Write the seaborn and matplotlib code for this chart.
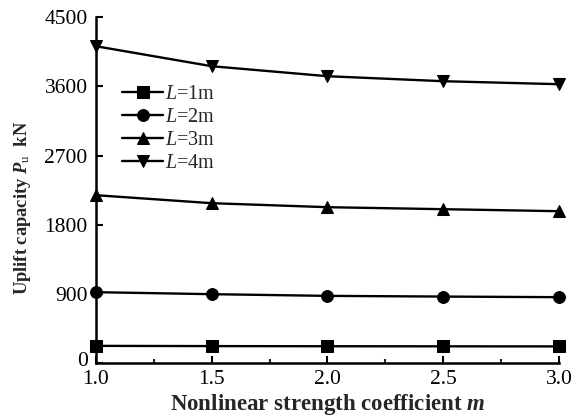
import matplotlib
matplotlib.use("Agg")
import matplotlib.pyplot as plt
import matplotlib.transforms as mtransforms
import seaborn as sns
import pandas as pd
from matplotlib.ticker import MultipleLocator

m_values = [1.0, 1.5, 2.0, 2.5, 3.0]
L1 = [225, 222, 220, 219, 218]
L2 = [923, 897, 875, 866, 858]
L3 = [2184, 2080, 2028, 2002, 1976]
L4 = [4121, 3861, 3731, 3666, 3627]
labels = ["$L$=1m", "$L$=2m", "$L$=3m", "$L$=4m"]
yticks = [0, 900, 1800, 2700, 3600, 4500]
xticks = [1.0, 1.5, 2.0, 2.5, 3.0]

rows = []
for lab, vals in zip(labels, [L1, L2, L3, L4]):
    for m, v in zip(m_values, vals):
        rows.append({"m": m, "Pu": v, "series": lab})
df = pd.DataFrame(rows)

sns.set_theme(style="ticks")
plt.rcParams["font.family"] = ["Liberation Serif", "DejaVu Serif"]
plt.rcParams["mathtext.fontset"] = "custom"
plt.rcParams["mathtext.rm"] = "Liberation Serif"
plt.rcParams["mathtext.it"] = "Liberation Serif:italic"
plt.rcParams["mathtext.bf"] = "Liberation Serif:bold"
plt.rcParams["mathtext.bfit"] = "Liberation Serif:italic:bold"

fig = plt.figure(figsize=(5.81, 4.16), dpi=100)
ax = fig.add_axes([0.165, 0.127, 0.797, 0.832])

sns.lineplot(data=df, x="m", y="Pu", hue="series", style="series",
             palette=["black"] * 4, markers=["s", "o", "^", "v"], dashes=False,
             markersize=8.5, linewidth=1.7, markeredgecolor="black", ax=ax,
             clip_on=False)

ax.set_xlim(1.0, 3.0)
ax.set_ylim(0, 4500)
ax.set_xticks(xticks)
ax.set_xticklabels([f"{t:.1f}" for t in xticks])
ax.set_yticks(yticks)
ax.xaxis.set_minor_locator(MultipleLocator(0.25))
ax.tick_params(axis="both", which="major", direction="in", length=5, width=1.5,
               labelsize=15.5, colors="black")
ax.tick_params(axis="x", which="major", pad=5)
ax.tick_params(axis="y", which="major", pad=6)
ax.tick_params(axis="x", which="minor", direction="in", length=3, width=1.5)
ax.tick_params(top=False, right=False)
for s in ["top", "right"]:
    ax.spines[s].set_visible(False)
for s in ["left", "bottom"]:
    ax.spines[s].set_linewidth(1.8)
    ax.spines[s].set_color("black")

# nudge the "0" label up a little so it clears "1.0"
fig.canvas.draw()
zero_lab = ax.get_yticklabels()[0]
zero_lab.set_transform(zero_lab.get_transform() +
                       mtransforms.ScaledTranslation(0, 4 / 100, fig.dpi_scale_trans))

ax.set_xlabel(r"Nonlinear strength coefficient $\mathbfit{m}$", fontsize=16.5,
              fontweight="bold", labelpad=2)
ax.set_ylabel(r"Uplift capacity $\mathbfit{P}_{\mathrm{u}}$  kN", fontsize=13.3,
              fontweight="bold")
ax.yaxis.set_label_coords(-0.135, 0.45)

leg = ax.legend(loc="upper left", bbox_to_anchor=(0.04, 0.828), frameon=False,
                fontsize=14.5, handlelength=2.0, handletextpad=0.1,
                labelspacing=0.2, borderaxespad=0)

fig.savefig("out.png", dpi=100)
